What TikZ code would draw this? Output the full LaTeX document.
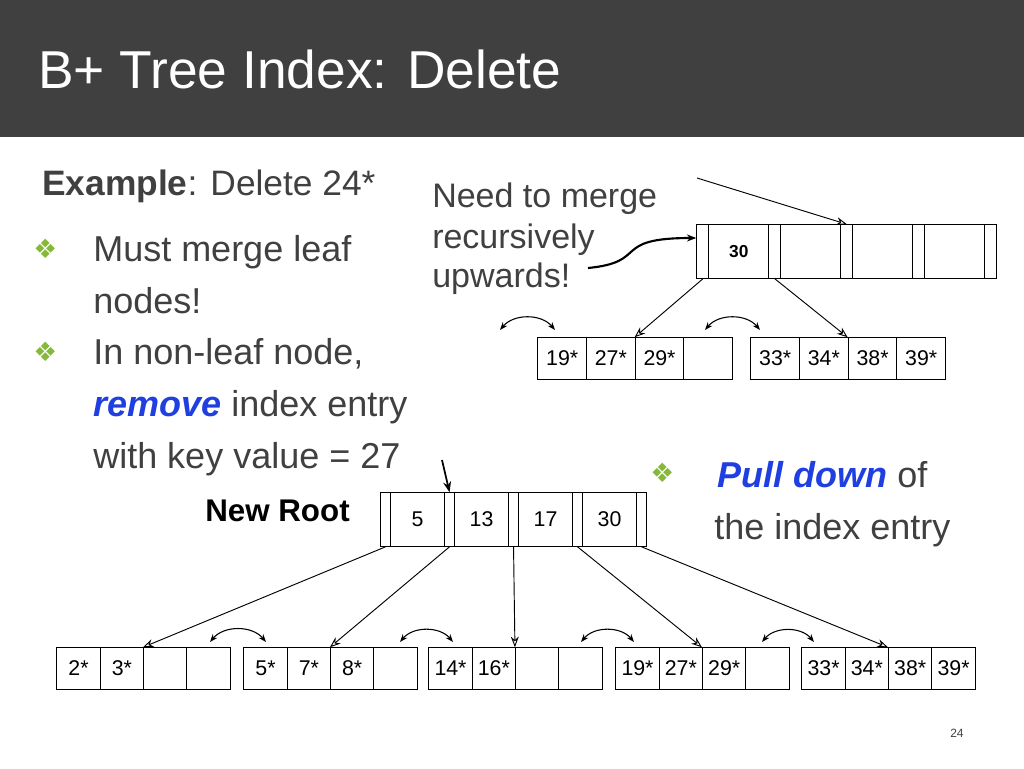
\documentclass[tikz,border=0pt]{standalone}
\usepackage{fontspec}
\setmainfont{Liberation Sans}
\newfontfamily\symfont{DejaVu Sans}
\usetikzlibrary{arrows.meta, positioning, matrix}
\definecolor{txtgray}{HTML}{404040}
\definecolor{ptblue}{HTML}{1F3FE0}
\definecolor{bulletgreen}{HTML}{86B83A}
\newcommand{\bul}{{\symfont\color{bulletgreen}\fontsize{20}{20}\selectfont ❖}}
\tikzset{
    leaf/.style={
        matrix of nodes,
        nodes in empty cells,
        nodes={draw=black, line width=0.9pt, minimum width=32.5pt, minimum height=31pt, anchor=center,
               font=\fontsize{16}{16}\selectfont, inner sep=0pt},
        column sep=-0.9pt,
        anchor=north west, inner sep=0pt
    },
    index/.style={
        matrix of nodes,
        nodes in empty cells,
        nodes={draw=black, line width=0.9pt, minimum height=40pt, anchor=center, inner sep=0pt},
        column sep=-0.9pt,
        anchor=north west, inner sep=0pt
    },
    slot/.style={minimum width=#1},
    key/.style={minimum width=#1},
    ptr/.style={-{Stealth[open, length=8pt, width=6pt]}, line width=0.7pt},
    sib/.style={{Stealth[length=6pt]}-{Stealth[length=6pt]}, line width=0.8pt, bend left=50},
    body/.style={font=\fontsize{27}{27}\selectfont, text=txtgray, anchor=base west, inner sep=0pt},
}
\begin{document}
\begin{tikzpicture}[x=0.75pt, y=-0.75pt]
    \useasboundingbox (0,0) rectangle (1024,768);
    % Title bar
    \fill[black!75] (0,0) rectangle (1024,137);
    \node[anchor=base west, inner sep=0pt, text=white, font=\fontsize{40}{40}\selectfont] (title) at (38,88) {B+ Tree Index: Delete};

    % Left text
    \node[body, font=\fontsize{26.5}{26.5}\selectfont] (ex) at (42,195) {\textbf{Example}: Delete 24*};
    \node[anchor=base west, inner sep=0pt] (b1) at (33,258) {\bul};
    \node[body] (t1) at (93,261) {Must merge leaf};
    \node[body] (t2) at (93,313) {nodes!};
    \node[anchor=base west, inner sep=0pt] (b2) at (33,361) {\bul};
    \node[body] (t3) at (93,364) {In non-leaf node,};
    \node[body] (t4) at (93,416) {\textcolor{ptblue}{\textbf{\textit{remove}}} index entry};
    \node[body] (t5) at (93,468) {with key value = 27};
    \node[body, font=\fontsize{25.5}{25.5}\selectfont] (m1) at (432,207) {Need to merge};
    \node[body, font=\fontsize{25.5}{25.5}\selectfont] (m2) at (432,248) {recursively};
    \node[body, font=\fontsize{25.5}{25.5}\selectfont] (m3) at (432,287) {upwards!};
    \node[anchor=base west, inner sep=0pt, font=\bfseries\fontsize{23.5}{23.5}\selectfont] (nr) at (205,521) {New Root};
    \node[anchor=base west, inner sep=0pt] (b3) at (650,482) {\bul};
    \node[body] (p1) at (717,487) {\textcolor{ptblue}{\textbf{\textit{Pull down}}} of};
    \node[body] (p2) at (714,539) {the index entry};
    \node[anchor=base west, inner sep=0pt, text=txtgray, font=\fontsize{9}{9}\selectfont] (pg) at (950,737) {24};

    % Old root (top)
    \matrix[index, nodes={font=\bfseries\fontsize{13}{13}\selectfont}] (T) at (696,224) {
        |[slot=9pt]| & |[key=45pt]| 30 & |[slot=9pt]| & |[key=45pt]| & |[slot=9pt]| & |[key=45pt]| & |[slot=9pt]| & |[key=45pt]| & |[slot=9pt]| \\
    };
    \matrix[leaf, nodes={minimum width=36.5pt}] (TL) at (537,337) { 19* & 27* & 29* & \\ };
    \matrix[leaf, nodes={minimum width=36.5pt}] (TR) at (750,337) { 33* & 34* & 38* & 39* \\ };
    \draw[ptr] (T-1-1.south) -- (TL-1-3.north west);
    \draw[ptr] (T-1-3.south) -- (TR-1-3.north west);
    \coordinate (in) at (697,178);
    \draw[ptr] (in) -- (T-1-5.north);
    \coordinate (up) at (588,268);
    \draw[-{Stealth[length=7pt]}, line width=1.6pt] (up) .. controls (650,262) and (610,238) .. (T-1-1.west |- 0,238);
    \draw[sib] (500,330) to (555,330);
    \draw[sib] (705,330) to (760,330);

    % New root
    \matrix[index, nodes={font=\fontsize{16}{16}\selectfont}] (R) at (380,492) {
        |[slot=7pt]| & |[key=41pt]| 5 & |[slot=7pt]| & |[key=41pt]| 13 & |[slot=7pt]| & |[key=41pt]| 17 & |[slot=7pt]| & |[key=41pt]| 30 & |[slot=7pt]| \\
    };
    \coordinate (nin) at (442,460);
    \draw[ptr, line width=1.3pt] (nin) -- (R-1-3.north);

    % Leaves
    \matrix[leaf] (L1) at (56,647)  { 2* & 3* & & \\ };
    \matrix[leaf] (L2) at (243,647) { 5* & 7* & 8* & \\ };
    \matrix[leaf] (L3) at (428,647) { 14* & 16* & & \\ };
    \matrix[leaf] (L4) at (615,647) { 19* & 27* & 29* & \\ };
    \matrix[leaf] (L5) at (801,647) { 33* & 34* & 38* & 39* \\ };
    \draw[ptr] (R-1-1.south) -- (L1-1-3.north west);
    \draw[ptr] (R-1-3.south) -- (L2-1-3.north west);
    \draw[ptr] (R-1-5.south) -- (L3-1-3.north west);
    \draw[ptr] (R-1-7.south) -- (L4-1-3.north west);
    \draw[ptr] (R-1-9.south) -- (L5-1-3.north west);
    \draw[sib] (210,642) to (266,642);
    \draw[sib] (400,642) to (453,642);
    \draw[sib] (581,642) to (634,642);
    \draw[sib] (762,642) to (814,642);
\end{tikzpicture}
\end{document}
